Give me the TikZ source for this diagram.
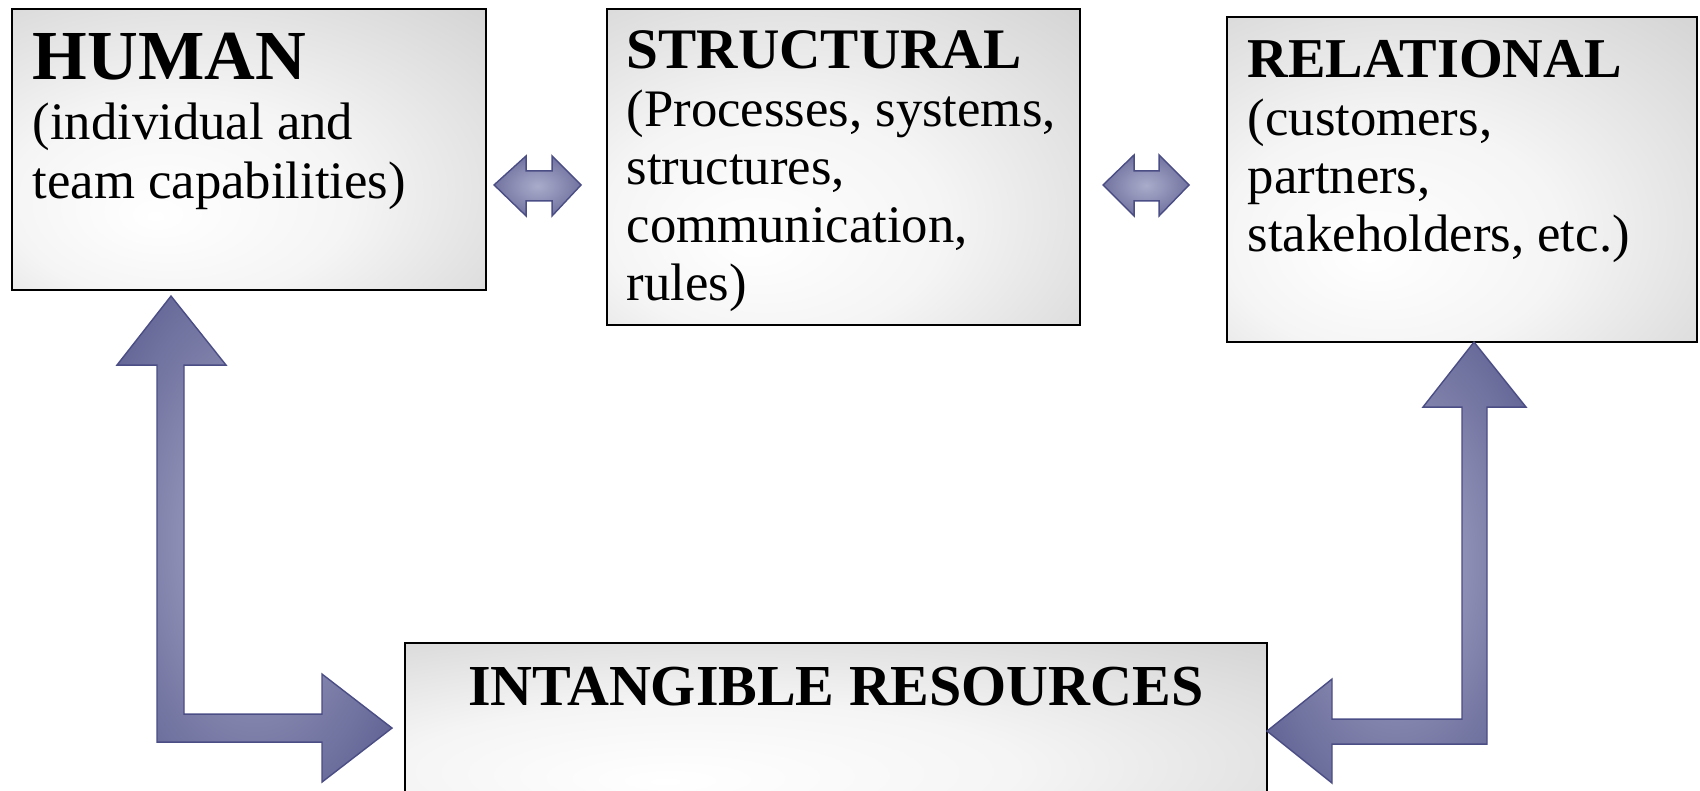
\documentclass[tikz,border=0pt]{standalone}
\usepackage{fontspec}
\setmainfont{Liberation Serif}
\usetikzlibrary{calc}

\definecolor{arrowline}{HTML}{4B4D85}
\definecolor{arrowdark}{HTML}{505287}
\definecolor{arrowlight}{HTML}{AAACCB}
\definecolor{boxedge}{gray}{0.79}
\definecolor{boxcorner}{gray}{0.74}
\pgfdeclareradialshading{boxshade}{\pgfpoint{-10bp}{-12bp}}{color(0bp)=(white); color(18bp)=(white!96!black); color(50bp)=(boxedge); color(71bp)=(boxcorner)}
\pgfdeclareradialshading{arrowshade}{\pgfpoint{0bp}{0bp}}{color(0bp)=(arrowlight); color(40bp)=(arrowdark); color(71bp)=(arrowdark)}

\tikzset{
  box/.style={rectangle, draw=black, line width=0.6pt, shading=boxshade, inner sep=0pt},
  boxtext/.style={anchor=base west, align=left, inner sep=0pt},
  blockarrow/.style={draw=arrowline, line width=0.4pt, shading=arrowshade, line join=miter}
}

\begin{document}
\begin{tikzpicture}[x=0.1mm, y=-0.1mm]
      \useasboundingbox (0,0) rectangle (1700,791);
      \clip (0,0) rectangle (1700,791);
      \node[box, minimum width=47.4mm, minimum height=28.1mm] (human) at (249,149.5) {};
      \node[box, minimum width=47.3mm, minimum height=31.6mm] (structural) at (843.5,167) {};
      \node[box, minimum width=47.0mm, minimum height=32.5mm] (relational) at (1462,179.5) {};
      \node[box, minimum width=86.2mm, minimum height=18.8mm] (intangible) at (836,737) {};
      \node[boxtext, font=\fontsize{15pt}{17pt}\selectfont] (humantext) at ($(human.north west)+(21,191)$)
        {{\fontsize{20pt}{17pt}\selectfont\bfseries HUMAN}\\(individual and\\team capabilities)};
      \node[boxtext, font=\fontsize{15pt}{16.5pt}\selectfont] (structuraltext) at ($(structural.north west)+(20,293)$)
        {{\fontsize{16.3pt}{16.5pt}\selectfont\bfseries STRUCTURAL}\\(Processes, systems,\\structures,\\communication,\\rules)};
      \node[boxtext, font=\fontsize{15pt}{16.5pt}\selectfont] (relationaltext) at ($(relational.north west)+(21,236)$)
        {{\fontsize{16pt}{16.5pt}\selectfont\bfseries RELATIONAL}\\(customers,\\partners,\\stakeholders, etc.)};
      \node[anchor=base, inner sep=0pt, font=\fontsize{16.5pt}{17pt}\selectfont\bfseries] (intangibletext)
        at ($(intangible.north)+(0,64)$) {INTANGIBLE RESOURCES};
      \draw[blockarrow] ($(human.north east)+(7,177)$) -- ++(32,-29) -- ++(0,15) -- ++(26,0) -- ++(0,-15)
        -- ++(29,29) -- ++(-29,31) -- ++(0,-15) -- ++(-26,0) -- ++(0,15) -- cycle;
      \draw[blockarrow] ($(structural.north east)+(22,177)$) -- ++(31,-30) -- ++(0,16) -- ++(25,0) -- ++(0,-16)
        -- ++(30,30) -- ++(-30,31) -- ++(0,-15) -- ++(-25,0) -- ++(0,15) -- cycle;
      \draw[blockarrow] ($(human.south)+(-78,5)$) -- ++(55,69) -- ++(-42,0) -- ++(0,349) -- ++(138,0)
        -- ++(0,-40) -- ++(70,54) -- ++(-70,54) -- ++(0,-40) -- ++(-165,0) -- ++(0,-377) -- ++(-40,0) -- cycle;
      \draw[blockarrow] ($(relational.south)+(12,-1)$) -- ++(52,65) -- ++(-39,0) -- ++(0,337) -- ++(-155,0)
        -- ++(0,39) -- ++(-65,-52) -- ++(65,-52) -- ++(0,40) -- ++(130,0) -- ++(0,-312) -- ++(-39,0) -- cycle;
    \end{tikzpicture}
\end{document}
